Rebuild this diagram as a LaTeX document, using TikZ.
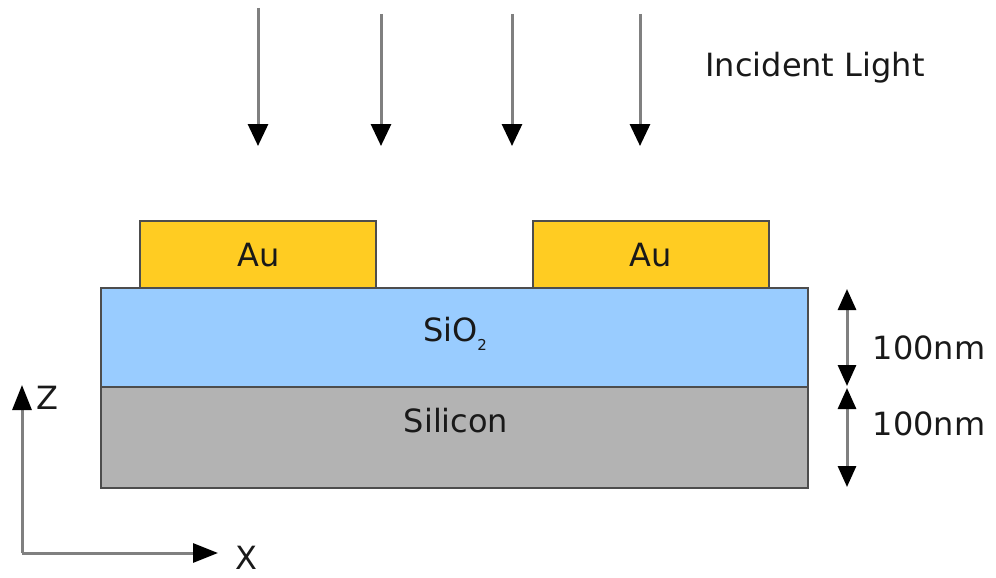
\documentclass[tikz,border=0pt]{standalone}
\usepackage{fontspec}
\setmainfont{DejaVu Sans}
\usetikzlibrary{arrows.meta}
\definecolor{gold}{HTML}{FFCC22}
\definecolor{sio}{HTML}{99CCFF}
\definecolor{si}{HTML}{B3B3B3}
\definecolor{edge}{HTML}{4D4D4D}
\definecolor{shaft}{HTML}{808080}
\tikzset{
  layer/.style={draw=edge, line width=2pt, inner sep=0pt, outer sep=0pt, anchor=north west},
  lbl/.style={inner sep=0pt, font=\fontsize{32}{32}\selectfont, text=black!90},
  ray/.style={shaft, line width=3pt, -{Triangle[width=20pt,length=22pt,color=black]}},
  dim/.style={shaft, line width=3pt, {Triangle[width=18pt,length=21pt,color=black]}-{Triangle[width=18pt,length=21pt,color=black]}},
  axis/.style={shaft, line width=3pt, -{Triangle[width=19pt,length=25pt,color=black]}}
}
\begin{document}
\begin{tikzpicture}[x=1pt,y=-1pt]
\useasboundingbox (0,0) rectangle (996,578);
% layers
\node[layer, fill=si, minimum width=707pt, minimum height=101pt] (si) at (101,387) {};
\node[layer, fill=sio, minimum width=707pt, minimum height=99pt] (sio) at (101,288) {};
\node[layer, fill=gold, minimum width=236pt, minimum height=67pt] (au1) at (140,221) {};
\node[layer, fill=gold, minimum width=236pt, minimum height=67pt] (au2) at (533,221) {};
\node[lbl] (au1t) at (259,255) {Au};
\node[lbl] (au2t) at (651,255) {Au};
\node[lbl] (siot) at (455,334) {SiO\raisebox{-9pt}{\fontsize{15}{15}\selectfont 2}};
\node[lbl] (sit) at (456,421) {Silicon};
% incident light
\node[lbl] (inc) at (815,68) {Incident Light};
\coordinate (r1a) at (258,8);   \coordinate (r1b) at (258,146);
\coordinate (r2a) at (381,14);  \coordinate (r2b) at (381,146);
\coordinate (r3a) at (512,14);  \coordinate (r3b) at (512,146);
\coordinate (r4a) at (640,14);  \coordinate (r4b) at (640,146);
\draw[ray] (r1a) -- (r1b);
\draw[ray] (r2a) -- (r2b);
\draw[ray] (r3a) -- (r3b);
\draw[ray] (r4a) -- (r4b);
% dimensions
\coordinate (d1a) at (847,289); \coordinate (d1b) at (847,386);
\coordinate (d2a) at (847,388); \coordinate (d2b) at (847,487);
\draw[dim] (d1a) -- (d1b);
\draw[dim] (d2a) -- (d2b);
\node[lbl] (n1) at (929,348) {100nm};
\node[lbl] (n2) at (929,424) {100nm};
% axes
\coordinate (o) at (22,553);
\coordinate (zt) at (22,385);
\coordinate (xt) at (218,553);
\draw[axis] (o) -- (zt);
\draw[axis] (o) -- (xt);
\node[lbl] (zl) at (47,398) {Z};
\node[lbl] (xl) at (246,558) {X};
\end{tikzpicture}
\end{document}
